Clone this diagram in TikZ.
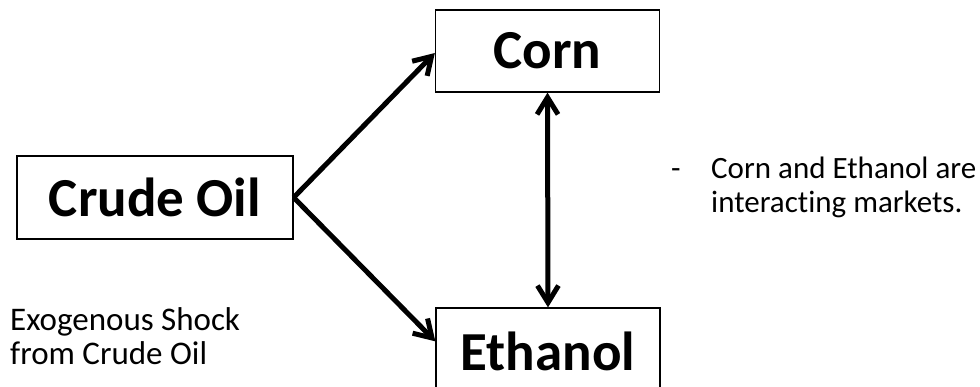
\documentclass[tikz,border=0pt]{standalone}
\usepackage{fontspec}
\setmainfont{Carlito}[Ligatures=NoCommon]
\usetikzlibrary{arrows.meta,calc}
\tikzset{
  tip/.tip={Straight Barb[length=17pt,width=21pt,line width=5pt]},
  box/.style={draw=black, line width=1.3pt, inner sep=0pt, minimum width=224pt, font=\fontsize{55}{60}\selectfont\bfseries},
  conn/.style={line width=5pt, -tip},
  dconn/.style={line width=5pt, tip-tip},
  note/.style={align=left, anchor=base west, inner sep=0pt, font=\fontsize{31}{34}\selectfont}
}
\begin{document}
\begin{tikzpicture}[x=1pt,y=-1pt]
\useasboundingbox (0,0) rectangle (980,387);
\clip (0,0) rectangle (980,387);
\node[box, minimum width=276pt, minimum height=83pt] (crude) at (155,197.5) {Crude Oil};
\node[box, minimum height=82pt] (corn) at (547.5,51) {Corn};
\node[box, minimum height=86pt] (ethanol) at (548,351) {Ethanol};
\coordinate (etin) at ($(ethanol.north west)+(0,34)$);
\coordinate (cornin) at ($(corn.west)+(0,2)$);
\draw[conn] (crude.east) -- (cornin);
\draw[conn] (crude.east) -- (etin);
\draw[dconn] (corn.south) -- (ethanol.north);
\node[note, font=\fontsize{33}{34}\selectfont] (shock) at (10,364) {Exogenous Shock\\from Crude Oil};
\node[note] (dash) at (671,179) {-};
\node[note] (interact) at (711,213) {Corn and Ethanol are\\interacting markets.};
\end{tikzpicture}
\end{document}
